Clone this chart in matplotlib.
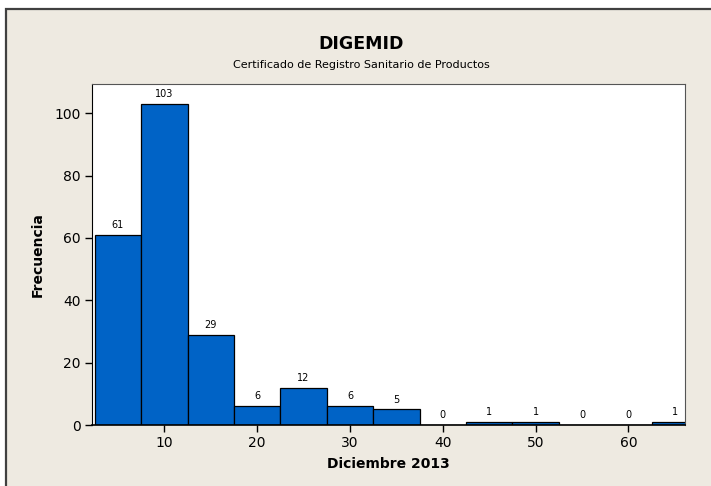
import numpy as np
import matplotlib
matplotlib.use("Agg")
import matplotlib.pyplot as plt
from matplotlib.patches import Rectangle

# histogram bins (midpoints) and counts
bin_mids = [5, 10, 15, 20, 25, 30, 35, 40, 45, 50, 55, 60, 65]
counts = [61, 103, 29, 6, 12, 6, 5, 0, 1, 1, 0, 0, 1]
bin_width = 5
x_ticks = [10, 20, 30, 40, 50, 60]
y_ticks = [0, 20, 40, 60, 80, 100]

title = "DIGEMID"
subtitle = "Certificado de Registro Sanitario de Productos"
x_label = "Diciembre 2013"
y_label = "Frecuencia"

bg = "#eeeae1"
bar_color = "#0063c6"

W, H = 711, 486
fig = plt.figure(figsize=(W / 100, H / 100), dpi=100, facecolor="white")

# beige frame with dark border (only left/top edges fall inside the image)
frame = Rectangle((6 / W, -0.05), 1.1, (H - 9) / H + 0.05, transform=fig.transFigure,
                  facecolor=bg, edgecolor="#404040", linewidth=1.6, zorder=-10)
fig.patches.append(frame)

left, right, top, bottom = 92, 685, 84, 425
ax = fig.add_axes([left / W, (H - bottom) / H, (right - left) / W, (bottom - top) / H])
ax.set_facecolor("white")

bars = ax.bar(bin_mids, counts, width=bin_width, color=bar_color,
              edgecolor="black", linewidth=0.9)
for x, c in zip(bin_mids, counts):
    ax.annotate(str(c), (x, c), xytext=(0, 3.5), textcoords="offset points",
                ha="center", va="bottom", fontsize=7)

ax.set_xlim(2.2, 66.1)
ax.set_ylim(0, 109.4)
ax.set_xticks(x_ticks)
ax.set_yticks(y_ticks)
ax.tick_params(direction="out", length=5, width=1, labelsize=10, pad=3)

for s in ["top", "right"]:
    ax.spines[s].set_color("#555555")
ax.spines["left"].set_color("black")
ax.spines["bottom"].set_color("black")
ax.spines["bottom"].set_linewidth(1.2)

ax.set_xlabel(x_label, fontsize=10, fontweight="bold", labelpad=5)
ax.set_ylabel(y_label, fontsize=10, fontweight="bold", labelpad=7)

fig.text(361 / W, 1 - 44 / H, title, ha="center", va="center",
         fontsize=12.5, fontweight="bold")
fig.text(361 / W, 1 - 65 / H, subtitle, ha="center", va="center", fontsize=8)

fig.savefig("out.png", dpi=100, facecolor=fig.get_facecolor())
